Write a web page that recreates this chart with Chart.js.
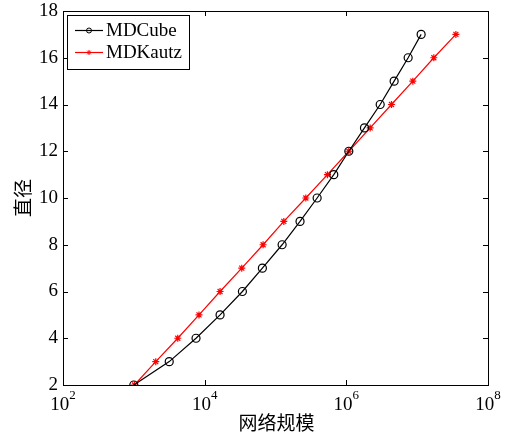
<!DOCTYPE html>
<html>
<head>
<meta charset="utf-8">
<script src="https://cdn.jsdelivr.net/npm/chart.js@4"></script>
<style>
html,body{margin:0;padding:0;background:#fff;}
#wrap{position:relative;width:508px;height:439px;}
</style>
</head>
<body>
<div id="wrap"><canvas id="c" width="508" height="439"></canvas></div>
<script>
// Data
const diameters = [2,3,4,5,6,7,8,9,10,11,12,13,14,15,16,17];
const mdcubeSize = [1000,3160,7550,16500,34100,65300,124000,222000,387000,665000,1084000,1803000,3006000,4730000,7460000,11380000];
const mdkautzSize = [1020,2040,4170,8320,16500,33400,66800,131000,268000,541000,1084000,2170000,4340000,8690000,17200000,35200000];
const xTickExponents = [2,4,6,8];
const yTickValues = [2,4,6,8,10,12,14,16,18];
const seriesNames = ['MDCube','MDKautz'];
const xTitle = '网络规模';
const yTitle = '直径';

const serif = '"Liberation Serif","Times New Roman",serif';
const cjk = '"Noto Sans CJK SC","Noto Sans",sans-serif';

const matlabPlugin = {
  id: 'matlab',
  afterDraw(chart) {
    const ctx = chart.ctx;
    const a = chart.chartArea;
    const xs = chart.scales.x, ys = chart.scales.y;
    ctx.save();
    ctx.strokeStyle = '#000';
    ctx.lineWidth = 1;
    // frame
    ctx.strokeRect(Math.round(a.left)+0.5, Math.round(a.top)+0.5, Math.round(a.right-a.left), Math.round(a.bottom-a.top));
    // y ticks
    ctx.beginPath();
    ys.ticks.forEach(t => {
      const py = Math.round(ys.getPixelForValue(t.value)) + 0.5;
      ctx.moveTo(a.left, py); ctx.lineTo(a.left + 5, py);
      ctx.moveTo(a.right, py); ctx.lineTo(a.right - 5, py);
    });
    // x ticks
    xTickExponents.forEach(e => {
      const px = Math.round(xs.getPixelForValue(Math.pow(10, e))) + 0.5;
      ctx.moveTo(px, a.bottom); ctx.lineTo(px, a.bottom - 5);
      ctx.moveTo(px, a.top); ctx.lineTo(px, a.top + 5);
    });
    ctx.stroke();
    // y tick labels
    ctx.fillStyle = '#000';
    ctx.font = '19px ' + serif;
    ctx.textAlign = 'right';
    ctx.textBaseline = 'middle';
    ys.ticks.forEach(t => {
      const py = ys.getPixelForValue(t.value);
      ctx.fillText(String(t.value), a.left - 5, py);
    });
    // x tick labels 10^e
    xTickExponents.forEach(e => {
      const px = xs.getPixelForValue(Math.pow(10, e));
      ctx.font = '19px ' + serif;
      const wb = ctx.measureText('10').width;
      ctx.font = '13px ' + serif;
      const we = ctx.measureText(String(e)).width;
      const x0 = px - (wb + we) / 2;
      ctx.textAlign = 'left';
      ctx.textBaseline = 'alphabetic';
      ctx.font = '19px ' + serif;
      ctx.fillText('10', x0, a.bottom + 25);
      ctx.font = '13px ' + serif;
      ctx.fillText(String(e), x0 + wb, a.bottom + 14);
    });
    // axis titles
    ctx.font = '19px ' + cjk;
    ctx.textAlign = 'center';
    ctx.textBaseline = 'middle';
    ctx.fillText(xTitle, (a.left + a.right) / 2 + 1, 423);
    ctx.save();
    ctx.translate(23, (a.top + a.bottom) / 2);
    ctx.rotate(-Math.PI / 2);
    ctx.fillText(yTitle, 0, 0);
    ctx.restore();
    // legend
    const bx = 67.5, by = 15.5, bw = 122, bh = 54;
    ctx.fillStyle = '#fff';
    ctx.fillRect(bx, by, bw, bh);
    ctx.strokeStyle = '#000';
    ctx.strokeRect(bx, by, bw, bh);
    const rows = [30.5, 52.5];
    chart.data.datasets.forEach((ds, i) => {
      const y = rows[i];
      ctx.strokeStyle = ds.borderColor;
      ctx.lineWidth = 1.2;
      ctx.beginPath();
      ctx.moveTo(75, y); ctx.lineTo(103, y);
      ctx.stroke();
      ctx.lineWidth = 1;
      if (i === 0) {
        ctx.beginPath(); ctx.arc(89, y, 2.5, 0, Math.PI * 2); ctx.stroke();
      } else {
        ctx.beginPath();
        ctx.moveTo(89 - 2.5, y); ctx.lineTo(89 + 2.5, y);
        ctx.moveTo(89, y - 2.5); ctx.lineTo(89, y + 2.5);
        ctx.moveTo(89 - 1.8, y - 1.8); ctx.lineTo(89 + 1.8, y + 1.8);
        ctx.moveTo(89 - 1.8, y + 1.8); ctx.lineTo(89 + 1.8, y - 1.8);
        ctx.stroke();
      }
      ctx.fillStyle = '#000';
      ctx.font = '19px ' + serif;
      ctx.textAlign = 'left';
      ctx.textBaseline = 'middle';
      ctx.fillText(ds.label, 106, y + 1);
    });
    ctx.restore();
  }
};

new Chart(document.getElementById('c'), {
  type: 'line',
  data: {
    datasets: [
      {
        label: seriesNames[0],
        data: mdcubeSize.map((x, i) => ({x: x, y: diameters[i]})),
        borderColor: '#000',
        backgroundColor: 'rgba(0,0,0,0)',
        borderWidth: 1.2,
        pointStyle: 'circle',
        pointRadius: 4,
        pointBorderWidth: 1.2,
        pointBorderColor: '#000',
        pointBackgroundColor: 'rgba(0,0,0,0)',
        tension: 0
      },
      {
        label: seriesNames[1],
        data: mdkautzSize.map((x, i) => ({x: x, y: diameters[i]})),
        borderColor: '#ff0000',
        backgroundColor: '#ff0000',
        borderWidth: 1.2,
        pointStyle: 'star',
        pointRadius: 3.5,
        pointBorderWidth: 1.2,
        pointBorderColor: '#ff0000',
        tension: 0
      }
    ]
  },
  options: {
    responsive: false,
    animation: false,
    devicePixelRatio: 1,
    layout: { padding: { left: 0, right: 20, top: 11, bottom: 0 } },
    plugins: { legend: { display: false }, tooltip: { enabled: false } },
    scales: {
      x: {
        type: 'logarithmic',
        min: 100, max: 1e8,
        grid: { display: false },
        border: { display: false },
        ticks: { display: false },
        afterFit(s) { s.height = 54; }
      },
      y: {
        type: 'linear',
        min: 2, max: 18,
        afterBuildTicks(s) { s.ticks = yTickValues.map(v => ({value: v})); },
        grid: { display: false },
        border: { display: false },
        ticks: { display: false },
        afterFit(s) { s.width = 63; }
      }
    }
  },
  plugins: [matlabPlugin]
});
</script>
</body>
</html>
